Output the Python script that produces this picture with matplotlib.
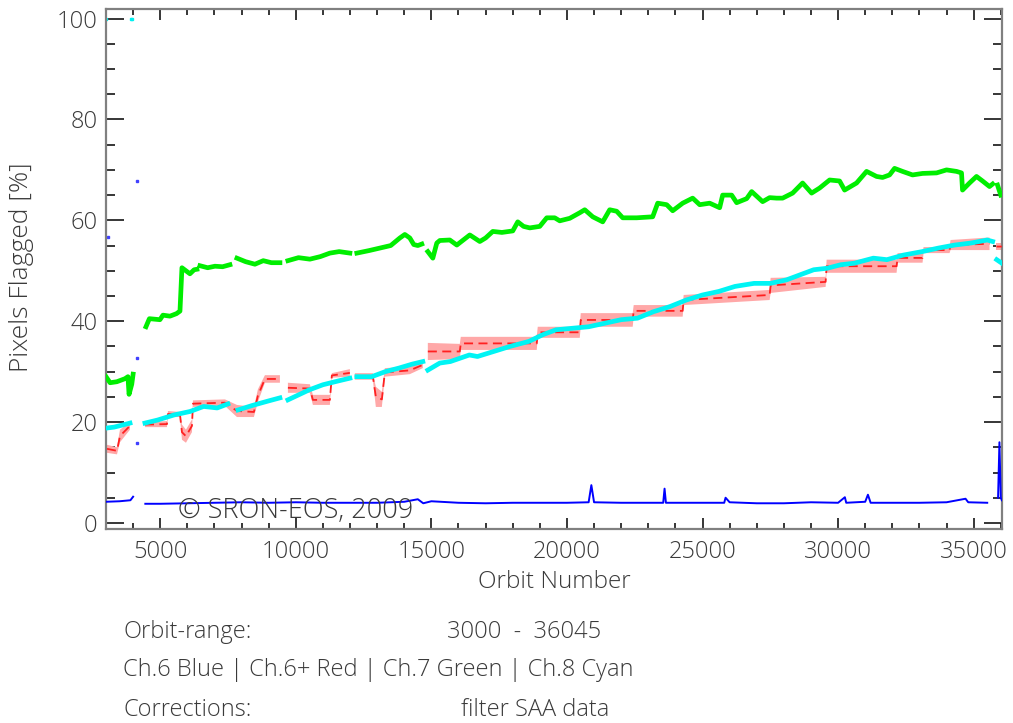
import numpy as np
import matplotlib
matplotlib.use('Agg')
import matplotlib.pyplot as plt
from matplotlib.ticker import MultipleLocator

nan = np.nan

# Ch.7 (green), nan = gap in the data
green_orbit = [3000, 3150, 3400, 3700, 3810, 3850, 3950, 4000, 4200,
               4474, 4600, 4990, 5100, 5359, 5600, 5728,
               5801, 5950, 6096, 6250, 6354, 6400,
               6465, 6750, 7018, 7300, 7571, 7700,
               7829, 8150, 8492, 8800, 9100, 9414, 9550,
               9709, 10100, 10519, 10900, 11257, 11600, 11994, 12100,
               12252, 12700, 13100, 13500, 13837, 14021, 14205, 14350, 14500, 14648, 14750,
               14869, 15053, 15200, 15311, 15680, 15938, 16200, 16417, 16786, 17000, 17265,
               17600, 18002, 18186, 18400, 18629, 18997, 19255, 19550, 19734, 20103, 20472,
               20656, 20951, 21319, 21577, 21835, 22057, 22573, 23162, 23347, 23679, 23900,
               24268, 24637, 24895, 25264, 25632, 25743, 26075, 26259, 26628, 26812, 27217,
               27475, 27733, 27954, 28323, 28691, 29023, 29318, 29687, 30055, 30240, 30682,
               31050, 31419, 31640, 31898, 32083, 32377, 32746, 33115, 33631, 33999, 34368,
               34552, 34589, 34847, 35105, 35327, 35584, 35700, 35800,
               35879, 36000]
green_val = [29.0, 27.8, 28.0, 28.6, 29.0, 25.5, 27.5, 29.5, nan,
             38.9, 40.5, 40.3, 41.2, 41.0, 41.5, 42.0,
             50.6, 50.0, 49.4, 50.2, 50.3, nan,
             51.0, 50.6, 50.9, 50.8, 51.2, nan,
             52.5, 51.8, 51.3, 52.0, 51.6, 51.6, nan,
             52.0, 52.6, 52.3, 52.8, 53.5, 53.8, 53.5, nan,
             53.5, 54.0, 54.5, 55.0, 56.5, 57.2, 56.5, 55.2, 55.0, 55.3, nan,
             53.8, 52.5, 55.5, 56.0, 56.1, 55.1, 56.2, 57.1, 55.8, 56.5, 57.8,
             57.6, 57.9, 59.7, 58.8, 58.5, 58.8, 60.5, 60.5, 59.9, 60.4, 61.5,
             62.1, 60.7, 59.7, 62.1, 61.8, 60.5, 60.5, 60.7, 63.4, 63.1, 61.9,
             63.4, 64.4, 63.1, 63.4, 62.5, 65.0, 65.0, 63.5, 64.3, 65.7, 63.7,
             64.5, 64.4, 64.4, 65.4, 67.4, 65.4, 66.4, 68.0, 67.8, 66.0, 67.4,
             69.7, 68.7, 68.5, 69.0, 70.3, 69.7, 69.0, 69.3, 69.4, 70.0, 69.7,
             69.4, 66.0, 67.4, 68.7, 67.8, 66.7, 67.2, nan,
             67.0, 65.0]

# Ch.8 (cyan)
cyan_orbit = [3000, 3300, 3600, 3885, 4100,
              4437, 4900, 5500, 6100, 6600, 7100, 7497, 7700,
              7866, 8400, 9000, 9414, 9550,
              9709, 10500, 11000, 11600, 11994, 12100,
              12252, 12800, 13300, 13800, 14300, 14685, 14800,
              14869, 15311, 15700, 16400, 16700, 17300, 17900, 18600, 19100, 19600,
              20200, 20800, 21400, 22000, 22600, 23200, 23800, 24400, 25000, 25600,
              26200, 26900, 27500, 28100, 28600, 29100, 29600, 30100, 30600, 31300,
              31800, 32400, 33100, 33700, 34300, 34900, 35500, 35700, 35800,
              35850, 36040]
cyan_val = [18.8, 19.0, 19.4, 19.8, nan,
            19.8, 20.4, 21.4, 22.1, 23.1, 22.8, 23.6, nan,
            22.4, 23.3, 24.2, 24.8, nan,
            24.4, 26.4, 27.4, 28.2, 28.7, nan,
            29.0, 29.0, 30.0, 30.7, 31.5, 32.0, nan,
            30.3, 31.7, 32.0, 33.3, 33.0, 34.0, 35.0, 36.0, 37.3, 38.3,
            38.6, 38.9, 39.6, 40.3, 40.6, 41.9, 42.9, 44.2, 45.2, 45.9,
            46.9, 47.5, 47.5, 48.2, 49.2, 50.2, 50.5, 51.2, 51.5, 52.5,
            52.2, 53.1, 53.8, 54.5, 55.1, 55.5, 56.1, 55.8, nan,
            52.2, 51.5]
cyan_out_orbit = [3010, 3930, 3960]
cyan_out_val = [100.0, 100.0, 100.0]

# Ch.6+ (red): band of the scattered points (low / high edge)
red_orbit = [3037, 3405, 3516, 3885, 4100,
             4437, 5248, 5285, 5728, 5801, 5949, 6170, 6207, 7387, 7829, 8455,
             8603, 8861, 9414, 9550,
             9709, 10519, 10630, 11257, 11330, 11994, 12100,
             12178, 12842, 12952, 13174, 13284, 14205, 14685, 14800,
             14869, 16048, 16085, 18886, 18923, 20472, 20509, 22425, 22462,
             24268, 24305, 27475, 27512, 29540, 29577, 32157, 32194, 33115,
             33152, 34110, 34147, 35584, 35700,
             35842, 36040]
red_lo = [13.9, 13.6, 16.0, 18.5, nan,
          19.0, 19.0, 21.0, 21.0, 16.5, 15.9, 18.0, 23.0, 23.2, 21.0, 21.0,
          24.0, 27.8, 27.8, nan,
          25.8, 25.8, 23.4, 23.4, 28.8, 29.0, nan,
          28.4, 28.4, 23.0, 23.0, 29.0, 29.5, 30.7, nan,
          32.3, 32.5, 34.3, 34.3, 36.7, 36.7, 38.9, 38.9, 40.9,
          40.9, 43.2, 44.2, 45.6, 46.8, 49.6, 49.6, 51.6, 51.6,
          53.5, 53.5, 54.1, 54.1, nan,
          54.1, 54.1]
red_hi = [15.5, 15.0, 18.5, 20.0, nan,
          20.0, 20.2, 22.2, 22.0, 19.5, 18.5, 20.5, 24.3, 24.5, 23.4, 23.0,
          26.5, 29.3, 29.3, nan,
          27.8, 27.5, 25.4, 25.4, 29.7, 30.5, nan,
          29.7, 29.7, 27.0, 26.0, 30.7, 31.0, 32.0, nan,
          35.7, 35.5, 36.9, 36.9, 38.9, 38.9, 41.6, 41.6, 43.2,
          43.2, 45.2, 46.2, 48.6, 48.8, 52.2, 52.2, 53.5, 53.5,
          54.7, 54.7, 56.1, 56.6, nan,
          55.5, 55.5]

# Ch.6 (blue)
blue_orbit = [3000, 3500, 3900, 4000, 4200,
              4450, 5000, 6000, 7000, 8000, 9000, 10000, 11000, 12000, 13000,
              14000, 14500, 14700, 15000, 16000, 17000, 18000, 19000, 20000, 20800,
              20900, 21000, 22000, 23000, 23550, 23600, 23650, 24500, 25800, 25850,
              26000, 27000, 28000, 29000, 30000, 30250, 30300, 31000, 31100, 31200,
              32000, 33000, 34000, 34700, 34800, 35500, 35700,
              35900, 35950, 36000, 36040]
blue_val = [4.2, 4.3, 4.5, 5.2, nan,
            3.8, 3.8, 3.9, 4.0, 4.1, 4.0, 4.1, 4.0, 4.0, 4.0,
            4.2, 4.7, 3.9, 4.3, 4.0, 3.9, 4.0, 4.0, 4.0, 4.1,
            7.5, 4.1, 4.0, 4.0, 4.0, 6.8, 4.0, 4.0, 4.0, 5.0,
            4.1, 3.9, 3.9, 4.1, 4.0, 5.1, 4.0, 4.2, 5.6, 4.0,
            4.0, 4.0, 4.1, 4.8, 4.1, 4.0, nan,
            5.0, 16.0, 5.0, 4.5]
blue_out_orbit = [3060, 4130, 4130, 4130]
blue_out_val = [56.7, 67.8, 32.7, 15.9]

txt = '#3a3a3a'
fnt = ['Open Sans', 'DejaVu Sans']
fw = 'light'

fig = plt.figure(figsize=(10.13, 7.23), dpi=100)
ax = fig.add_axes([106 / 1013, 1 - 529 / 723, 896 / 1013, 520 / 723])

ax.fill_between(red_orbit, red_lo, red_hi, color='#ffa8a8', lw=0, zorder=2)
ax.plot(red_orbit, (np.array(red_lo) + np.array(red_hi)) / 2, color='#ff2020',
        lw=1.3, ls=(0, (5, 3)), zorder=3)
ax.plot(blue_orbit, blue_val, color='#0000ff', lw=1.4, zorder=3)
ax.plot(blue_out_orbit, blue_out_val, ls='none', marker='s', ms=1.5, color='#4040ff')
ax.plot(green_orbit, green_val, color='#00ee00', lw=3.4, zorder=4)
ax.plot(cyan_orbit, cyan_val, color='#00f4f4', lw=3.4, zorder=5)
ax.plot(cyan_out_orbit, cyan_out_val, ls='none', marker='s', ms=2, color='#00f0f0')

ax.set_xlim(3000, 36045)
ax.set_ylim(-1.2, 101.9)
ax.xaxis.set_major_locator(MultipleLocator(5000))
ax.xaxis.set_minor_locator(MultipleLocator(1000))
ax.yaxis.set_major_locator(MultipleLocator(20))
ax.yaxis.set_minor_locator(MultipleLocator(5))
ax.tick_params(axis='both', which='both', direction='in', top=True, right=True,
               color='black', width=1.1, labelcolor=txt, labelsize=17)
ax.tick_params(axis='x', which='major', length=8, pad=8)
ax.tick_params(axis='x', which='minor', length=4.5)
ax.tick_params(axis='y', which='major', length=13, pad=6)
ax.tick_params(axis='y', which='minor', length=6.5)
for s in ax.spines.values():
    s.set_color('#808080')
    s.set_linewidth(1.6)
for lab in ax.get_xticklabels() + ax.get_yticklabels():
    lab.set_family(fnt)
    lab.set_weight(fw)

fig.text(22 / 1013, 1 - 267 / 723, 'Pixels Flagged [%]', rotation=90, ha='center',
         va='center', fontsize=19, color=txt, family=fnt, weight=fw)
fig.text(554 / 1013, 1 - 582 / 723, 'Orbit Number', ha='center', va='center',
         fontsize=17.5, color=txt, family=fnt, weight=fw)
fig.text(178 / 1013, 1 - 511 / 723, '\u00a9 SRON-EOS, 2009', ha='left', va='center',
         fontsize=19.5, color=txt, family=fnt, weight=fw)

rows = [(632, 'Orbit-range:', '3000  -  36045', 447),
        (710, 'Corrections:', 'filter SAA data', 461)]
for y, a, b, xb in rows:
    fig.text(123 / 1013, 1 - y / 723, a, ha='left', va='center', fontsize=17,
             color=txt, family=fnt, weight=fw)
    fig.text(xb / 1013, 1 - y / 723, b, ha='left', va='center', fontsize=17,
             color=txt, family=fnt, weight=fw)
fig.text(123 / 1013, 1 - 670 / 723, 'Ch.6 Blue | Ch.6+ Red | Ch.7 Green | Ch.8 Cyan',
         ha='left', va='center', fontsize=17, color=txt, family=fnt, weight=fw)

fig.savefig('out.png', dpi=100)
